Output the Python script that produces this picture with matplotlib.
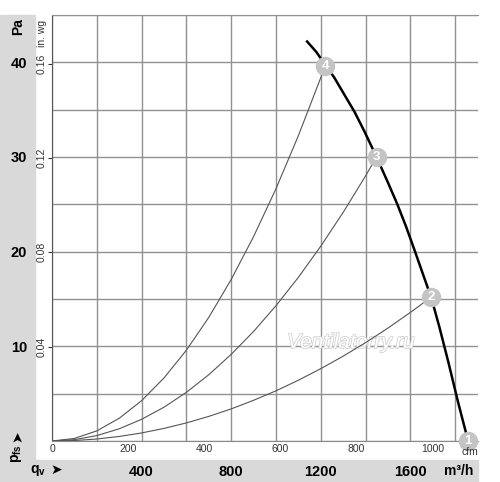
import numpy as np
import matplotlib
matplotlib.use('Agg')
import matplotlib.pyplot as plt
import matplotlib.patheffects as pe
from matplotlib.patches import Rectangle

# fan curve (m3/h, Pa)
fan_q = [1139, 1180, 1218, 1260, 1300, 1350, 1395, 1449, 1500, 1542, 1580, 1621, 1673, 1695, 1730, 1770, 1813, 1858]
fan_p = [42.2, 41.1, 39.8, 38.4, 36.8, 34.8, 32.7, 30.0, 27.3, 25.0, 22.7, 20.0, 16.5, 15.0, 12.0, 8.3, 4.1, 0.0]

# system curves
sys4_q = [0, 100, 200, 300, 400, 500, 600, 700, 800, 900, 1000, 1100, 1200, 1219]
sys4_p = [0, 0.27, 1.07, 2.40, 4.26, 6.66, 9.59, 13.06, 17.06, 21.59, 26.65, 32.25, 38.38, 39.6]
sys3_q = [0, 100, 200, 300, 400, 500, 600, 700, 800, 900, 1000, 1100, 1200, 1300, 1400, 1449]
sys3_p = [0, 0.14, 0.57, 1.29, 2.29, 3.57, 5.14, 7.0, 9.15, 11.57, 14.29, 17.29, 20.58, 24.15, 28.0, 30.0]
sys2_q = [0, 100, 200, 300, 400, 500, 600, 700, 800, 900, 1000, 1100, 1200, 1300, 1400, 1500, 1600, 1693]
sys2_p = [0, 0.05, 0.21, 0.48, 0.85, 1.33, 1.91, 2.60, 3.39, 4.30, 5.30, 6.42, 7.64, 8.96, 10.39, 11.93, 13.58, 15.2]

# operating points
pt_labels = ['1', '2', '3', '4']
pt_q = [1858, 1693, 1449, 1219]
pt_p = [0.0, 15.2, 30.0, 39.6]

pa_labels = [10, 20, 30, 40]
m3h_labels = [400, 800, 1200, 1600]
cfm_ticks = [0, 200, 400, 600, 800, 1000]
inwg_ticks = [0.04, 0.08, 0.12, 0.16]

M3H_PER_CFM = 1.699
PA_PER_INWG = 249.09

FONT = ['Liberation Sans', 'DejaVu Sans']
plt.rcParams['font.family'] = FONT

fig = plt.figure(figsize=(5, 4.82), dpi=100)
grey = '#d9d9d9'
# grey strips on the left and bottom
fig.patches.append(Rectangle((0, 0), 35 / 500, 1 - 15 / 482, transform=fig.transFigure,
                             color=grey, zorder=-1))
fig.patches.append(Rectangle((0, 0), 478 / 500, 22 / 482, transform=fig.transFigure,
                             color=grey, zorder=-1))

ax = fig.add_axes([52 / 500, 1 - 441 / 482, 426 / 500, 426 / 482])
ax.set_xlim(0, 1902)
ax.set_ylim(0, 45)

ax.set_xticks(np.arange(0, 1801, 200))
ax.set_xticklabels([str(v) if v in m3h_labels else '' for v in range(0, 1801, 200)],
                   fontweight='bold', fontsize=10.5)
ax.set_yticks(np.arange(0, 46, 5))
ax.set_yticklabels([str(v) if v in pa_labels else '' for v in range(0, 46, 5)],
                   fontweight='bold', fontsize=10.5)
ax.tick_params(axis='x', length=0, pad=17)
ax.tick_params(axis='y', length=0, pad=18)
ax.grid(True, color='#919191', lw=1.0)
ax.set_axisbelow(True)
ax.spines['right'].set_visible(False)
ax.spines['top'].set_color('#919191')
ax.spines['left'].set_color('#555555')
ax.spines['bottom'].set_color('#8a8a8a')

# secondary scales
sx = ax.secondary_xaxis('bottom', functions=(lambda q: q / M3H_PER_CFM, lambda c: c * M3H_PER_CFM))
sx.set_xticks(cfm_ticks)
sx.tick_params(length=0, pad=2, labelsize=7.5, colors='#333333')
sx.spines['bottom'].set_visible(False)

sy = ax.secondary_yaxis('left', functions=(lambda p: p / PA_PER_INWG, lambda w: w * PA_PER_INWG))
sy.set_yticks(inwg_ticks)
sy.set_yticklabels(['0.04', '0.08', '0.12', '0.16'], rotation=90, va='center')
sy.tick_params(length=3, pad=1, labelsize=7.5, colors='#333333')
sy.spines['left'].set_visible(False)

# curves
for q, p in [(sys4_q, sys4_p), (sys3_q, sys3_p), (sys2_q, sys2_p)]:
    ax.plot(q, p, color='#555555', lw=0.8, zorder=3)
ax.plot(fan_q, fan_p, color='black', lw=1.8, zorder=4, clip_on=False)

for lab, q, p in zip(pt_labels, pt_q, pt_p):
    ax.plot(q, p, 'o', ms=14, color='#c4c4c4', mec='none', zorder=5, clip_on=False)
    ax.text(q, p, lab, color='white', fontsize=9.5, fontweight='bold',
            ha='center', va='center', zorder=6, clip_on=False)

# watermark
ax.text(1335, 10.4, 'Ventilatorry.ru', fontsize=15, style='italic', color='white',
        ha='center', va='center', zorder=2,
        path_effects=[pe.withStroke(linewidth=1.2, foreground='#d2d2d2')])

# labels
fig.text(18 / 500, 1 - 27 / 482, 'Pa', rotation=90, fontsize=10, fontweight='bold',
         ha='center', va='center')
fig.text(42 / 500, 1 - 33 / 482, 'in. wg', rotation=90, fontsize=7.5, color='#333333',
         ha='center', va='center')
fig.text(470 / 500, 1 - 452 / 482, 'cfm', fontsize=7.5, color='#333333',
         ha='center', va='center', zorder=1)
fig.text(459 / 500, 1 - 471 / 482, 'm³/h', fontsize=10, fontweight='bold',
         ha='center', va='center')
fig.text(38 / 500, 1 - 471 / 482, r'q$_\mathregular{v}$', fontsize=10, fontweight='bold',
         ha='center', va='center')
fig.text(56 / 500, 1 - 470 / 482, '➤', fontsize=10, family='DejaVu Sans',
         ha='center', va='center')
fig.text(17 / 500, 1 - 454 / 482, r'p$_\mathregular{fs}$', rotation=90, fontsize=10,
         fontweight='bold', ha='center', va='center')
fig.text(17 / 500, 1 - 436 / 482, '➤', rotation=90, fontsize=10, family='DejaVu Sans',
         ha='center', va='center')

fig.savefig('out.png', dpi=100)
